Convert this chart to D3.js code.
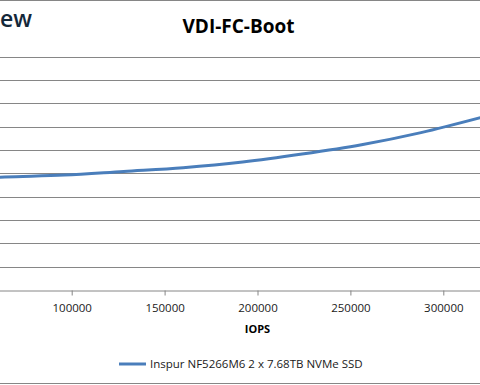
<!DOCTYPE html>
<html>
<head>
<meta charset="utf-8">
<script src="https://cdn.jsdelivr.net/npm/d3@7"></script>
<style>
  body { margin: 0; background: #fff; }
  svg { display: block; font-family: "Open Sans", sans-serif; }
</style>
</head>
<body>
<div id="chart"></div>
<script>
// Data (latency units guessed, axis labels are cropped)
const iops = [32000, 64000, 96000, 128000, 160000, 192000, 224000, 256000, 288000, 320000];
const latency = [2.36, 2.42, 2.46, 2.54, 2.62, 2.74, 2.91, 3.11, 3.37, 3.69];
const xTicks = [100000, 150000, 200000, 250000, 300000];
const yTicks = [0.5, 1, 1.5, 2, 2.5, 3, 3.5, 4, 4.5, 5];
const seriesName = "Inspur NF5266M6 2 x 7.68TB NVMe SSD";
const title = "VDI-FC-Boot";
const logoFragment = "ew";

const width = 480;
const height = 385;

const svg = d3.select("#chart")
  .append("svg")
    .attr("width", width)
    .attr("height", height);

// the chart is cropped on both sides, so the plot runs past the window
const x = d3.scaleLinear()
  .domain([0, 350000])
  .range([-114.1, 536.2]);

const y = d3.scaleLinear()
  .domain([0, 5])
  .range([290, 56.5]);

// outer border (only top and bottom visible)
svg.append("line")
  .attr("x1", 0).attr("x2", width)
  .attr("y1", 0.5).attr("y2", 0.5)
  .attr("stroke", "#868686");
svg.append("line")
  .attr("x1", 0).attr("x2", width)
  .attr("y1", 383.5).attr("y2", 383.5)
  .attr("stroke", "#868686");

// logo fragment
svg.append("text")
  .attr("x", 0)
  .attr("y", 27)
  .attr("fill", "#14283a")
  .style("font-size", "23px")
  .style("font-weight", 600)
  .text(logoFragment);

// title
svg.append("text")
  .attr("x", 238.5)
  .attr("y", 33)
  .attr("text-anchor", "middle")
  .attr("fill", "#000")
  .style("font-size", "19px")
  .style("font-weight", 700)
  .text(title);

// gridlines
svg.append("g")
  .selectAll("line")
  .data(yTicks)
  .join("line")
    .attr("x1", 0)
    .attr("x2", width)
    .attr("y1", d => Math.round(y(d)) + 0.5)
    .attr("y2", d => Math.round(y(d)) + 0.5)
    .attr("stroke", "#868686");

// x axis
const xAxis = svg.append("g")
  .attr("transform", `translate(0, ${Math.round(y(0)) + 0.5})`)
  .call(d3.axisBottom(x).tickValues(xTicks).tickFormat(d3.format("d")).tickSize(5).tickPadding(8));
xAxis.select(".domain").attr("stroke", "#868686");
xAxis.selectAll(".tick line").attr("stroke", "#868686");
xAxis.selectAll(".tick text")
  .attr("fill", "#1a1a1a")
  .style("font-size", "11.5px")
  .style("font-family", "'Open Sans', sans-serif");

svg.append("text")
  .attr("x", 257.5)
  .attr("y", 333)
  .attr("text-anchor", "middle")
  .attr("fill", "#000")
  .style("font-size", "11px")
  .style("font-weight", 700)
  .text("IOPS");

// series line
const line = d3.line()
  .x(d => x(d[0]))
  .y(d => y(d[1]))
  .curve(d3.curveCatmullRom);

svg.append("path")
  .datum(d3.zip(iops, latency))
  .attr("d", line)
  .attr("fill", "none")
  .attr("stroke", "#4a7ebb")
  .attr("stroke-width", 3)
  .attr("stroke-linecap", "round");

// legend
const legend = svg.append("g")
  .attr("transform", "translate(119, 364)");
legend.append("line")
  .attr("x1", 0).attr("x2", 27)
  .attr("y1", 0).attr("y2", 0)
  .attr("stroke", "#4a7ebb")
  .attr("stroke-width", 3);
legend.append("text")
  .attr("x", 31)
  .attr("y", 4)
  .attr("fill", "#1a1a1a")
  .style("font-size", "11.5px")
  .text(seriesName);
</script>
</body>
</html>
